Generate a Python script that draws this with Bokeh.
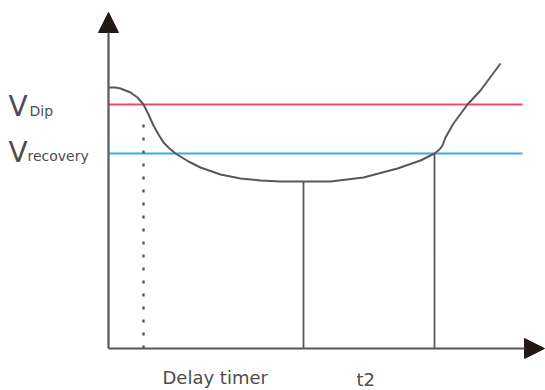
from bokeh.plotting import figure
from bokeh.models import Range1d, Arrow, NormalHead
from bokeh.core.properties import value
from bokeh.embed import file_html
from bokeh.resources import INLINE

# ---- data (schematic units: time t, voltage v) ----
curve_t = [0, 7, 12, 17, 22, 29, 35, 40, 45, 50, 55, 61, 67, 80, 92, 112, 132, 152, 172,
           195, 222, 255, 289, 312, 326, 331, 334, 337, 345, 359, 372, 392]
curve_v = [261, 261, 260, 258, 256, 251, 244, 234, 223, 214, 206, 200, 195, 187, 181, 174,
           170, 168, 167, 167, 167, 171, 180, 188, 195, 199, 203, 211, 225, 244, 258, 285]

v_dip = 244
v_recovery = 195
t_delay = 35          # end of delay timer (dotted marker)
t_min = 195           # minimum voltage point
t_recover = 326       # recovery point
v_at_min = 167
level_end = 414       # extent of threshold lines
t_axis_end = 436
v_axis_end = 336

label_v = ["V", "V"]
label_sub = ["Dip", "recovery"]
label_time = ["Delay timer", "t2"]

GREY = "#595757"
DARK = "#231815"

p = figure(width=545, height=390, output_backend="svg", toolbar_location=None,
           x_range=Range1d(-108, 437), y_range=Range1d(-42, 348),
           min_border=0, outline_line_color=None, background_fill_color="white",
           border_fill_color="white")
p.axis.visible = False
p.grid.visible = False

# threshold lines
p.line([0, level_end], [v_dip, v_dip], line_color="#ee4b5c", line_width=2.2)
p.line([0, level_end], [v_recovery, v_recovery], line_color="#35aee6", line_width=2.2)

# markers
p.line([t_delay, t_delay], [0, v_dip - 10], line_color=GREY, line_width=2.4,
       line_dash="3 10")
p.line([t_min, t_min], [0, v_at_min], line_color=GREY, line_width=1.8)
p.line([t_recover, t_recover], [0, v_recovery], line_color=GREY, line_width=1.8)

# voltage curve
p.line(curve_t, curve_v, line_color=GREY, line_width=2)

# axes with arrow heads
p.add_layout(Arrow(x_start=0, y_start=0, x_end=0, y_end=v_axis_end,
                   line_color=GREY, line_width=2.2,
                   end=NormalHead(size=20, fill_color=DARK, line_color=DARK)))
p.add_layout(Arrow(x_start=0, y_start=0, x_end=t_axis_end, y_end=0,
                   line_color=GREY, line_width=2.2,
                   end=NormalHead(size=20, fill_color=DARK, line_color=DARK)))

# labels
p.text(x=[-100, -100], y=[v_dip - 2, v_recovery + 1], text=label_v,
       text_font=value("DejaVu Sans"), text_font_size="28px", text_color="#4d4d4d",
       text_baseline="alphabetic", text_align="left")
p.text(x=[-79, -81], y=[v_dip - 6, v_recovery - 2], text=label_sub,
       text_font=value("DejaVu Sans"), text_font_size="14px", text_color="#4d4d4d",
       text_baseline="alphabetic", text_align="left")
p.text(x=[54, 248], y=[-29, -31], text=label_time,
       text_font=value("DejaVu Sans"), text_font_size="18px", text_color="#4d4d4d",
       text_baseline="alphabetic", text_align="left")

open("out.html", "w").write(file_html(p, INLINE))
